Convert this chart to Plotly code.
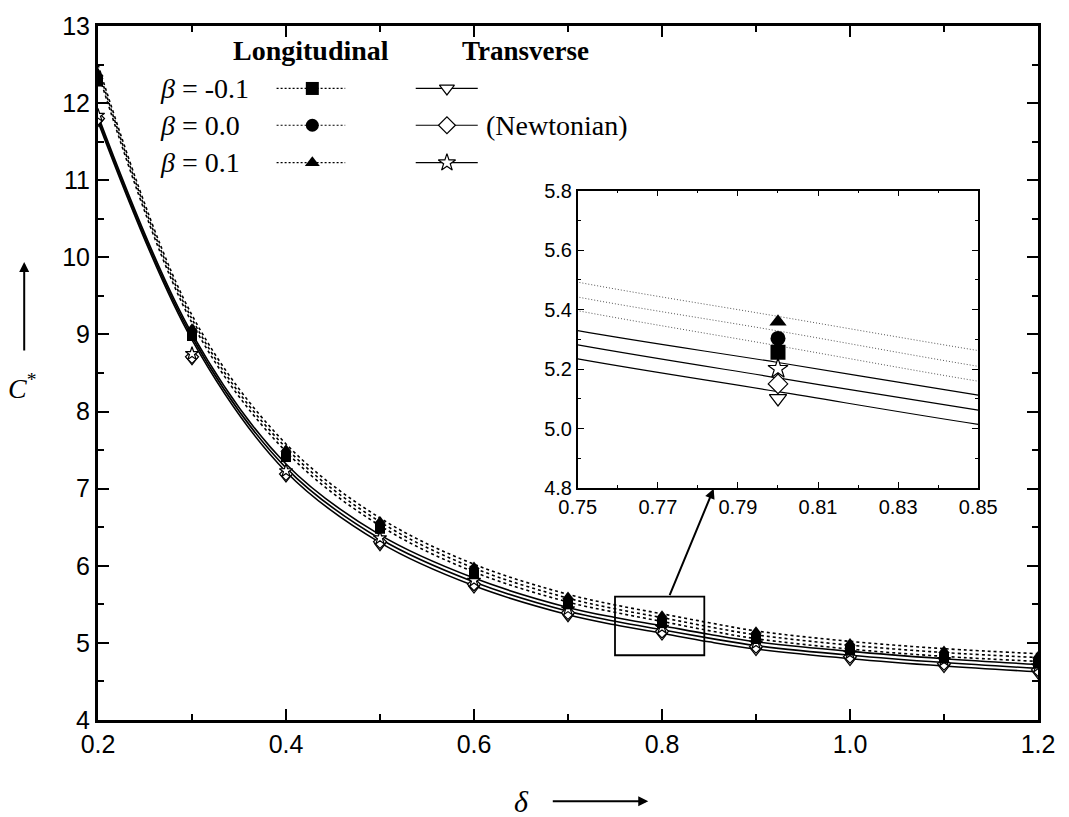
import plotly.graph_objects as go

# ---------------- data ----------------
delta_pts = [0.2, 0.3, 0.4, 0.5, 0.6, 0.7, 0.8, 0.9, 1.0, 1.1, 1.2]
delta_curve = [0.2, 0.3, 0.4, 0.5, 0.6, 0.7, 0.75, 0.8, 0.85, 0.9, 1.0, 1.1, 1.2]

# longitudinal curves (dotted), beta = -0.1, 0.0, 0.1
long_curve_m01 = [12.40, 9.15, 7.48, 6.52, 5.92, 5.53, 5.396, 5.278, 5.159, 5.055, 4.92, 4.825, 4.76]
long_curve_000 = [12.45, 9.20, 7.53, 6.57, 5.97, 5.58, 5.442, 5.328, 5.209, 5.105, 4.97, 4.875, 4.81]
long_curve_p01 = [12.50, 9.25, 7.58, 6.62, 6.02, 5.63, 5.492, 5.377, 5.262, 5.155, 5.02, 4.925, 4.86]

# transverse curves (solid), beta = -0.1, 0.0, 0.1
trans_curve_m01 = [11.76, 8.93, 7.22, 6.30, 5.74, 5.365, 5.234, 5.124, 5.014, 4.92, 4.795, 4.70, 4.625]
trans_curve_000 = [11.80, 8.97, 7.27, 6.35, 5.79, 5.41, 5.281, 5.170, 5.062, 4.965, 4.84, 4.745, 4.67]
trans_curve_p01 = [11.84, 9.01, 7.32, 6.40, 5.84, 5.46, 5.329, 5.222, 5.112, 5.015, 4.89, 4.795, 4.72]

# point values
long_pts_m01 = [12.28, 8.98, 7.41, 6.48, 5.89, 5.50, 5.256, 5.05, 4.90, 4.80, 4.73]
long_pts_000 = [12.33, 9.03, 7.46, 6.53, 5.94, 5.55, 5.303, 5.10, 4.95, 4.85, 4.78]
long_pts_p01 = [12.38, 9.08, 7.51, 6.58, 5.99, 5.60, 5.359, 5.15, 5.00, 4.90, 4.83]
trans_pts_m01 = [11.76, 8.67, 7.15, 6.26, 5.71, 5.34, 5.101, 4.90, 4.77, 4.68, 4.60]
trans_pts_000 = [11.80, 8.71, 7.19, 6.31, 5.76, 5.39, 5.150, 4.95, 4.82, 4.73, 4.65]
trans_pts_p01 = [11.84, 8.75, 7.23, 6.36, 5.81, 5.44, 5.201, 5.00, 4.87, 4.78, 4.70]

beta_labels = ["-0.1", "0.0", "0.1"]

main_xticks = [0.2, 0.4, 0.6, 0.8, 1.0, 1.2]
main_yticks = list(range(4, 14))
inset_xticks = [0.75, 0.77, 0.79, 0.81, 0.83, 0.85]
inset_yticks = [4.8, 5.0, 5.2, 5.4, 5.6, 5.8]

# zoom window shown in the inset
zoom_box = dict(x0=0.75, x1=0.845, y0=4.84, y1=5.6)

SERIF = "Liberation Serif, Times New Roman, serif"
SANS = "Liberation Sans, Arial, sans-serif"

long_curves = [long_curve_m01, long_curve_000, long_curve_p01]
trans_curves = [trans_curve_m01, trans_curve_000, trans_curve_p01]
long_pts = [long_pts_m01, long_pts_000, long_pts_p01]
trans_pts = [trans_pts_m01, trans_pts_000, trans_pts_p01]
long_sym = ["square", "circle", "triangle-up"]
trans_sym = ["triangle-down", "diamond", "star"]

fig = go.Figure()


def add_set(xa, ya, lw_solid, lw_dot, dot_style, dot_color, msize):
    for yc in long_curves:
        fig.add_trace(go.Scatter(x=delta_curve, y=yc, mode="lines", xaxis=xa, yaxis=ya,
                                 line=dict(color=dot_color, width=lw_dot, dash=dot_style, shape="spline"),
                                 hoverinfo="skip"))
    for yc in trans_curves:
        fig.add_trace(go.Scatter(x=delta_curve, y=yc, mode="lines", xaxis=xa, yaxis=ya,
                                 line=dict(color="black", width=lw_solid, shape="spline"),
                                 hoverinfo="skip"))
    for yp, sym in zip(trans_pts, trans_sym):
        fig.add_trace(go.Scatter(x=delta_pts, y=yp, mode="markers", xaxis=xa, yaxis=ya,
                                 marker=dict(symbol=sym, size=msize, color="white",
                                             line=dict(color="black", width=1.2))))
    for yp, sym in zip(long_pts, long_sym):
        fig.add_trace(go.Scatter(x=delta_pts, y=yp, mode="markers", xaxis=xa, yaxis=ya,
                                 marker=dict(symbol=sym, size=msize, color="black",
                                             line=dict(color="black", width=0))))


# main panel
add_set("x", "y", 1.6, 1.6, "3px,3px", "black", 10)
# inset panel
add_set("x2", "y2", 1.2, 1.0, "1px,2px", "#555555", 15)

# legend samples drawn on a hidden axis pair overlaying the main plot area
leg_rows_y = [0.910, 0.857, 0.803]
leg_long_x = [0.190, 0.263]
leg_long_mx = 0.228
leg_trans_x = [0.338, 0.404]
leg_trans_mx = 0.3712
for i, ry in enumerate(leg_rows_y):
    fig.add_trace(go.Scatter(x=leg_long_x, y=[ry, ry], mode="lines", xaxis="x3", yaxis="y3",
                             line=dict(color="black", width=1.2, dash="2px,2px")))
    fig.add_trace(go.Scatter(x=leg_trans_x, y=[ry, ry], mode="lines", xaxis="x3", yaxis="y3",
                             line=dict(color="black", width=1.2)))
    fig.add_trace(go.Scatter(x=[leg_long_mx], y=[ry], mode="markers", xaxis="x3", yaxis="y3",
                             marker=dict(symbol=long_sym[i], size=13, color="black")))
    fig.add_trace(go.Scatter(x=[leg_trans_mx], y=[ry], mode="markers", xaxis="x3", yaxis="y3",
                             marker=dict(symbol=trans_sym[i], size=13, color="white",
                                         line=dict(color="black", width=1.2))))

annotations = []
for i, ry in enumerate(leg_rows_y):
    annotations.append(dict(xref="paper", yref="paper", x=0.0636, y=ry, xanchor="left", yanchor="middle",
                            text=f"<i>β</i> = {beta_labels[i]}", showarrow=False,
                            font=dict(family=SERIF, size=28, color="black")))
annotations += [
    dict(xref="paper", yref="paper", x=0.227, y=0.964, xanchor="center", yanchor="middle",
         text="<b>Longitudinal</b>", showarrow=False, font=dict(family=SERIF, size=28, color="black")),
    dict(xref="paper", yref="paper", x=0.385, y=0.964, xanchor="left", yanchor="middle",
         text="<b>Transverse</b>", showarrow=False, font=dict(family=SERIF, size=27, color="black")),
    dict(xref="paper", yref="paper", x=0.411, y=leg_rows_y[1], xanchor="left", yanchor="middle",
         text="(Newtonian)", showarrow=False, font=dict(family=SERIF, size=28, color="black")),
    # axis titles with arrows
    dict(xref="paper", yref="paper", x=-0.0806, y=0.481, xanchor="center", yanchor="middle",
         text="<i>C</i><sup>*</sup>", showarrow=False, font=dict(family=SERIF, size=28, color="black")),
    dict(xref="paper", yref="paper", x=-0.0785, y=0.66, ax=0, ay=90, text="", showarrow=True,
         arrowhead=2, arrowsize=1, arrowwidth=2, arrowcolor="black"),
    dict(xref="paper", yref="paper", x=0.4507, y=-0.117, xanchor="center", yanchor="middle",
         text="<i>δ</i>", showarrow=False, font=dict(family=SERIF, size=30, color="black")),
    dict(xref="paper", yref="paper", x=0.5854, y=-0.1171, ax=-97, ay=0, text="", showarrow=True,
         arrowhead=2, arrowsize=1, arrowwidth=2, arrowcolor="black"),
    # pointer from zoom box to inset
    dict(xref="x", yref="y", axref="x", ayref="y", x=0.855, y=7.0, ax=0.8075, ay=zoom_box["y1"],
         text="", showarrow=True, arrowhead=2, arrowsize=1, arrowwidth=2, arrowcolor="black"),
]

shapes = [
    dict(type="rect", xref="x", yref="y", x0=zoom_box["x0"], x1=zoom_box["x1"],
         y0=zoom_box["y0"], y1=zoom_box["y1"], line=dict(color="black", width=1.8)),
]

tickfont_main = dict(family=SANS, size=25, color="black")
tickfont_inset = dict(family=SANS, size=20, color="black")

fig.update_layout(
    width=1069, height=817,
    margin=dict(l=98, r=28, t=20, b=97),
    plot_bgcolor="white", paper_bgcolor="white",
    showlegend=False,
    annotations=annotations,
    shapes=shapes,
    xaxis=dict(range=[0.2, 1.2], tickmode="array", tickvals=main_xticks,
               ticktext=[f"{v:.1f}" for v in main_xticks],
               ticks="inside", ticklen=11, tickwidth=2, tickcolor="black",
               minor=dict(dtick=0.1, tick0=0.2, ticks="inside", ticklen=6, tickwidth=1.5,
                          tickcolor="black"),
               showline=True, linewidth=3, linecolor="black", mirror="allticks",
               showgrid=False, zeroline=False, tickfont=tickfont_main),
    yaxis=dict(range=[4, 13], tickmode="array", tickvals=main_yticks, ticks="inside", ticklen=11,
               tickwidth=2, tickcolor="black",
               minor=dict(dtick=0.5, tick0=4, ticks="inside", ticklen=6, tickwidth=1.5, tickcolor="black"),
               showline=True, linewidth=3, linecolor="black", mirror="allticks",
               showgrid=False, zeroline=False, tickfont=tickfont_main),
    xaxis2=dict(domain=[0.5104, 0.9364], anchor="y2", range=[0.75, 0.85], tickmode="array",
                tickvals=inset_xticks, ticktext=[f"{v:.2f}" for v in inset_xticks],
                ticks="inside", ticklen=6, tickwidth=1.2, tickcolor="black",
                minor=dict(dtick=0.01, tick0=0.75, ticks="inside", ticklen=3,
                           tickwidth=1, tickcolor="black"),
                showline=True, linewidth=1.6, linecolor="black", mirror="allticks",
                showgrid=False, zeroline=False, tickfont=tickfont_inset),
    yaxis2=dict(domain=[0.3343, 0.7629], anchor="x2", range=[4.8, 5.8], tickmode="array",
                tickvals=inset_yticks, ticktext=[f"{v:.1f}" for v in inset_yticks],
                ticks="inside", ticklen=6, tickwidth=1.2, tickcolor="black",
                minor=dict(dtick=0.1, tick0=4.8, ticks="inside", ticklen=3,
                           tickwidth=1, tickcolor="black"),
                showline=True, linewidth=1.6, linecolor="black", mirror="allticks",
                showgrid=False, zeroline=False, tickfont=tickfont_inset),
    xaxis3=dict(overlaying="x", range=[0, 1], anchor="y3", visible=False),
    yaxis3=dict(overlaying="y", range=[0, 1], anchor="x3", visible=False),
)

fig.write_html("out.html")
